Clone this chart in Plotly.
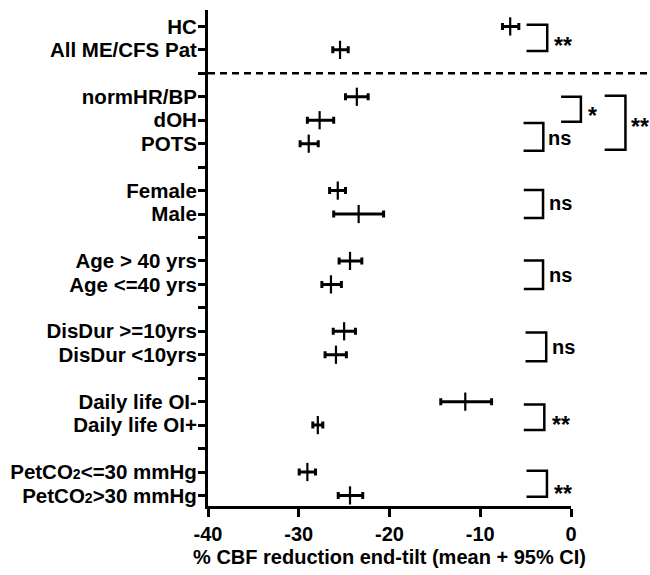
import plotly.graph_objects as go

# ---- data ----
SUB2 = '<span style="font-size:14px">2</span>'
groups = [
    ["HC", "All ME/CFS Pat"],
    ["normHR/BP", "dOH", "POTS"],
    ["Female", "Male"],
    ["Age > 40 yrs", "Age <=40 yrs"],
    ["DisDur >=10yrs", "DisDur <10yrs"],
    ["Daily life OI-", "Daily life OI+"],
    ["PetCO" + SUB2 + "<=30 mmHg", "PetCO" + SUB2 + ">30 mmHg"],
]
means = [-6.7, -25.45, -23.6, -27.7, -28.9, -25.7, -23.4, -24.35, -26.45,
         -25.0, -25.9, -11.65, -27.9, -29.05, -24.35]
ci_lo = [-7.55, -26.25, -24.85, -29.05, -29.85, -26.6, -26.15, -25.55, -27.45,
         -26.2, -27.1, -14.35, -28.45, -29.95, -25.65]
ci_hi = [-5.75, -24.55, -22.35, -26.15, -27.85, -24.85, -20.65, -23.05, -25.3,
         -23.75, -24.75, -8.75, -27.35, -28.15, -22.95]

# significance brackets: (x0, x1, y_top_row, y_bottom_row, label, label_x, label_row)
brackets = [
    (-4.9, -2.62, -0.07, 1.05, "**", -2.1, 0.56),
    (-1.09, 1.09, 3.0, 4.07, "*", 1.6, 3.56),
    (3.71, 6.0, 2.96, 5.26, "**", 6.4, 4.03),
    (-5.23, -3.05, 4.12, 5.3, "ns", -2.7, 4.74),
    (-5.2, -3.08, 6.98, 8.17, "ns", -2.6, 7.54),
    (-5.2, -3.08, 9.98, 11.2, "ns", -2.6, 10.58),
    (-5.01, -2.73, 13.05, 14.28, "ns", -2.3, 13.66),
    (-5.2, -2.94, 16.12, 17.21, "**", -2.3, 16.72),
    (-4.9, -2.65, 18.95, 20.06, "**", -2.05, 19.68),
]
x_ticks = [-40, -30, -20, -10, 0]
x_title = "% CBF reduction end-tilt (mean + 95% CI)"

# ---- layout of rows: each group followed by an empty row ----
rows, labels, tickvals, ticktext = [], [], [], []
r = 0
for gi, g in enumerate(groups):
    for name in g:
        rows.append(r)
        labels.append(name)
        tickvals.append(r)
        ticktext.append(name)
        r += 1
    if gi < len(groups) - 1:
        tickvals.append(r)
        ticktext.append("")
        r += 1
sep_row = len(groups[0])

XMIN, XMAX = -40, 0
def to_paper(v):
    return (v - XMIN) / (XMAX - XMIN)

fig = go.Figure()
fig.add_trace(go.Scatter(
    x=means, y=rows, mode="markers",
    marker=dict(symbol="line-ns", size=13, color="black",
                line=dict(color="black", width=2.2)),
    error_x=dict(type="data", symmetric=False,
                 array=[h - m for h, m in zip(ci_hi, means)],
                 arrayminus=[m - l for m, l in zip(means, ci_lo)],
                 color="black", thickness=3, width=3.5),
    showlegend=False, hoverinfo="skip",
))

shapes = []
# dashed separator
shapes.append(dict(type="line", xref="paper", yref="y", x0=0, x1=1.25,
                   y0=sep_row, y1=sep_row,
                   line=dict(color="black", width=2.5, dash="7px,5px")))
annotations = []
for x0, x1, yt, yb, lab, lx, ly in brackets:
    p0, p1 = to_paper(x0), to_paper(x1)
    star = "*" in lab
    shapes.append(dict(type="path", xref="paper", yref="y",
                       path=f"M {p0},{yt} L {p1},{yt} L {p1},{yb} L {p0},{yb}",
                       line=dict(color="black", width=2.5)))
    annotations.append(dict(xref="paper", yref="y", x=to_paper(lx), y=ly,
                            text=lab, showarrow=False, xanchor="left",
                            yanchor="middle",
                            yshift=-6 if star else 0,
                            font=dict(family="Liberation Sans",
                                      size=23 if star else 20,
                                      color="black", weight="bold")))

fig.update_layout(
    width=650, height=575,
    margin=dict(l=204, r=79, t=10, b=60),
    paper_bgcolor="white", plot_bgcolor="white",
    font=dict(family="Liberation Sans", color="black"),
    shapes=shapes, annotations=annotations,
)
fig.update_xaxes(range=[XMIN, XMAX], tickvals=x_ticks,
                 ticktext=[str(t) for t in x_ticks],
                 showgrid=False, zeroline=False,
                 showline=True, linewidth=3, linecolor="black",
                 ticks="outside", ticklen=8, tickwidth=3, tickcolor="black",
                 tickfont=dict(size=20, weight="bold", color="black"),
                 title=dict(text=x_title, standoff=6,
                            font=dict(size=20, weight="bold", color="black")))
fig.update_yaxes(range=[20.45, -0.70], tickvals=tickvals, ticktext=ticktext,
                 showgrid=False, zeroline=False,
                 showline=True, linewidth=3, linecolor="black",
                 ticks="outside", ticklen=7, tickwidth=3, tickcolor="black",
                 ticklabelstandoff=-3,
                 tickfont=dict(size=20.5, weight="bold", color="black"))

fig.write_html("out.html", config={"displayModeBar": False},
               post_script="document.body.style.margin='0';document.body.style.overflow='hidden';")
